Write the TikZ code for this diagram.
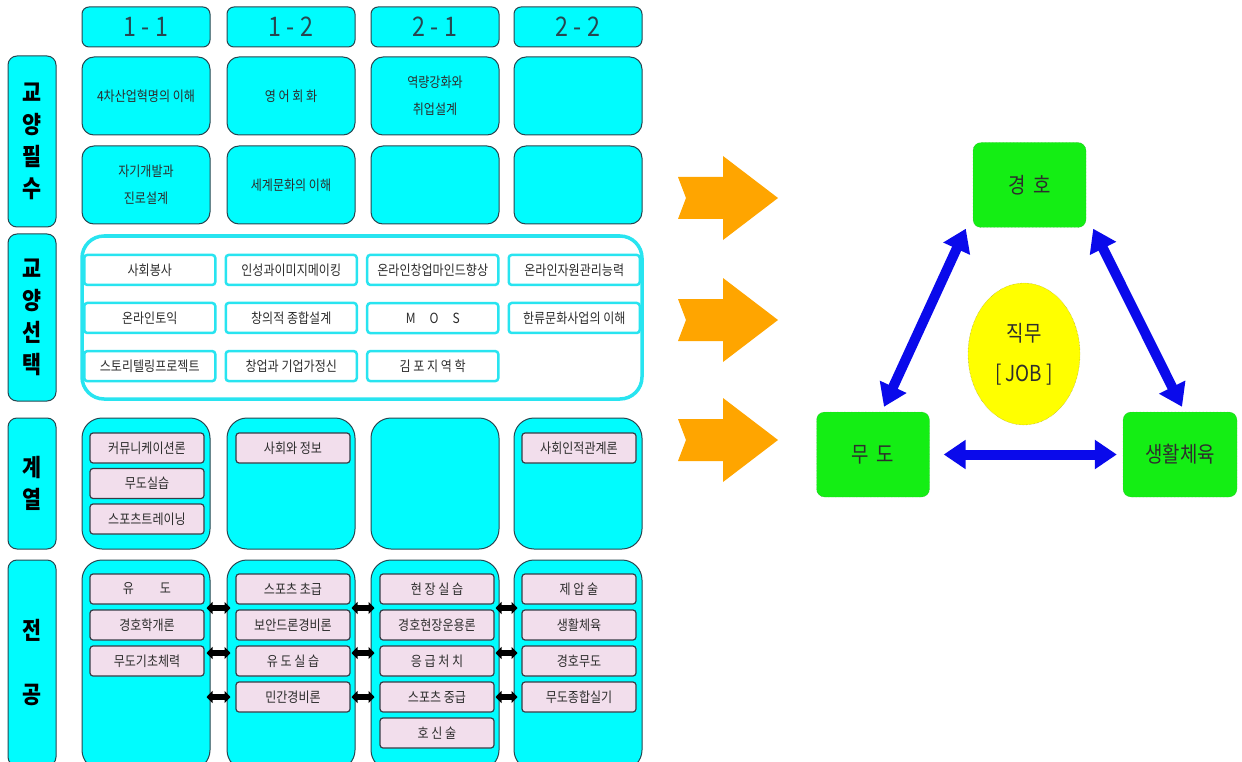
\documentclass[tikz,border=0pt]{standalone}
\usepackage{fontspec}
\setmainfont{Noto Sans CJK KR}
\newfontfamily\cellfont[FakeStretch=0.86]{Noto Sans CJK KR}
\usepackage{tikz}
\usetikzlibrary{matrix}
\usetikzlibrary{arrows.meta, positioning, calc, shapes.geometric}

\definecolor{cyanfill}{RGB}{0,252,254}
\definecolor{cellline}{RGB}{40,70,80}
\definecolor{selline}{RGB}{40,228,240}
\definecolor{pinkfill}{RGB}{242,222,236}
\definecolor{subjline}{RGB}{55,60,70}
\definecolor{txtgray}{RGB}{45,45,45}
\definecolor{arrorange}{RGB}{255,165,0}
\definecolor{jobgreen}{RGB}{20,238,20}
\definecolor{jobline}{RGB}{60,150,60}
\definecolor{jobyellow}{RGB}{255,255,0}
\definecolor{jobedge}{RGB}{150,140,60}
\definecolor{relblue}{RGB}{10,10,235}

\begin{document}
\begin{tikzpicture}[x=1pt, y=-1pt, % 1pt = 1像素, y轴向下
  cell/.style={draw=cellline, fill=cyanfill, line width=1pt, rounded corners=12pt,
               inner sep=0pt, align=center, text=txtgray,
               minimum width=128pt, minimum height=78pt,
               font=\cellfont\fontsize{14}{27}\selectfont},
  head/.style={cell, rounded corners=7pt, minimum height=40pt,
               font=\cellfont\fontsize{27}{27}\selectfont, text=cellline},
  side/.style={cell, rounded corners=9pt, minimum width=48pt, text=black,
               font=\cellfont\fontsize{24}{32}\selectfont\bfseries},
  col/.style={cell, rounded corners=20pt},
  selbox/.style={draw=selline, fill=white, line width=2.5pt, rounded corners=3pt,
                 minimum width=131pt, minimum height=30pt, inner sep=0pt,
                 text=txtgray, font=\cellfont\fontsize{14}{14}\selectfont},
  subj/.style={draw=subjline, fill=pinkfill, line width=1.2pt, rounded corners=3pt,
               minimum width=114pt, minimum height=30pt, inner sep=0pt,
               text=txtgray, font=\cellfont\fontsize{14}{14}\selectfont},
  link/.style={line width=6pt, shorten <=-4pt, shorten >=-4pt,
               {Triangle[length=6pt,width=12pt]}-{Triangle[length=6pt,width=12pt]}},
  job/.style={draw=jobline, densely dotted, fill=jobgreen, rounded corners=8pt,
              minimum width=113pt, minimum height=85pt, text=txtgray,
              font=\cellfont\fontsize{22}{22}\selectfont},
  rel/.style={relblue, line width=10pt,
              {Triangle[length=22pt,width=28pt]}-{Triangle[length=22pt,width=28pt]}}
]
\useasboundingbox (0,0) rectangle (1242,762); % 与原图同尺寸
\clip (0,0) rectangle (1242,762);

% 学期表头
\foreach \x/\t [count=\i] in {146/1 - 1, 291/1 - 2, 435/2 - 1, 578/2 - 2}
  \node[head] (h\i) at (\x,27) {\t};

% 左侧分类标签
\node[side, minimum height=171pt] (lab1) at (32,141.5) {교\\양\\필\\수};
\node[side, minimum height=167pt] (lab2) at (32,317.5) {교\\양\\선\\택};
\node[side, minimum height=131pt] (lab3) at (32,483.5) {계\\열};
\node[side, minimum height=206pt] (lab4) at (32,663) {전\\[32pt]공};

% 교양필수 两行格子
\node[cell] (p11) at (146,96) {4차산업혁명의 이해};
\node[cell] (p12) at (291,96) {영 어 회 화};
\node[cell] (p13) at (435,96) {역량강화와\\취업설계};
\node[cell] (p14) at (578,96) {};
\node[cell] (p21) at (146,185) {자기개발과\\진로설계};
\node[cell] (p22) at (291,185) {세계문화의 이해};
\node[cell] (p23) at (435,185) {};
\node[cell] (p24) at (578,185) {};

% 교양선택 大框 + 矩阵
\node[draw=selline, line width=3.5pt, fill=white, rounded corners=22pt,
      minimum width=560pt, minimum height=163pt, inner sep=0pt] (selbg) at (362,317.5) {};
\matrix (sel) [matrix of nodes, nodes={selbox}, row sep=15.5pt, column sep=8pt] at (362,318)
{
  사회봉사 & 인성과이미지메이킹 & 온라인창업마인드향상 & 온라인자원관리능력 \\
  온라인토익 & 창의적 종합설계 & M\quad O\quad S & 한류문화사업의 이해 \\
  스토리텔링프로젝트 & 창업과 기업가정신 & 김 포 지 역 학 & \\
};

% 계열 / 전공 列框
\foreach \x [count=\i] in {146,291,435,578} {
  \node[col, minimum height=131pt] (gy\i) at (\x,483.5) {};
  \node[col, minimum height=210pt] (jg\i) at (\x,665) {};
}

% 계열 科目
\foreach \t [count=\k] in {커뮤니케이션론, 무도실습, 스포츠트레이닝}
  \node[subj] (gy1-\k) at (147,412.5+35.5*\k) {\t};
\node[subj] (gy2-1) at (293,448) {사회와 정보};
\node[subj] (gy4-1) at (579,448) {사회인적관계론};

% 전공 科目
\foreach \t [count=\k] in {유\hspace{26pt}도, 경호학개론, 무도기초체력}
  \node[subj] (jg1-\k) at (147,553+36*\k) {\t};
\foreach \t [count=\k] in {스포츠 초급, 보안드론경비론, 유 도 실 습, 민간경비론}
  \node[subj] (jg2-\k) at (293,553+36*\k) {\t};
\foreach \t [count=\k] in {현 장 실 습, 경호현장운용론, 응 급 처 치, 스포츠 중급, 호 신 술}
  \node[subj] (jg3-\k) at (437,553+36*\k) {\t};
\foreach \t [count=\k] in {제 압 술, 생활체육, 경호무도, 무도종합실기}
  \node[subj] (jg4-\k) at (579,553+36*\k) {\t};

% 列之间的黑色双向箭头
\foreach \y in {608,653,697} {
  \coordinate (ry) at (0,\y);
  \draw[link] (jg1.east |- ry) -- (jg2.west |- ry);
  \draw[link] (jg2.east |- ry) -- (jg3.west |- ry);
  \draw[link] (jg3.east |- ry) -- (jg4.west |- ry);
}

% 橙色箭头
\foreach \y in {198,320,440}
  \fill[arrorange] (678,\y-21) -- (723,\y-21) -- (723,\y-42) -- (778,\y)
        -- (723,\y+42) -- (723,\y+21) -- (678,\y+21) -- (686,\y) -- cycle;

% 직무 三角
\node[job] (guard) at (1029.5,185) {경\hspace{8pt}호};
\node[job] (wudo) at (873,454.5) {무\hspace{8pt}도};
\node[job, minimum width=114pt] (life) at (1180,454.5) {생활체육};
\node[ellipse, draw=jobedge, densely dotted, fill=jobyellow, minimum width=112pt,
      minimum height=142pt, inner sep=0pt, align=center, text=txtgray,
      font=\cellfont\fontsize{22}{40}\selectfont] (duty) at (1024,354) {직무\\{[ JOB ]}};

\draw[rel] ($(wudo.east)+(14,0)$) -- ($(life.west)+(-6,0)$);
\draw[rel] ($(wudo.north)+(11,-5)$) -- ($(guard.south west)+(-7,1)$);
\draw[rel] ($(guard.south east)+(7,1)$) -- ($(life.north)+(2,-5)$);
\end{tikzpicture}
\end{document}
